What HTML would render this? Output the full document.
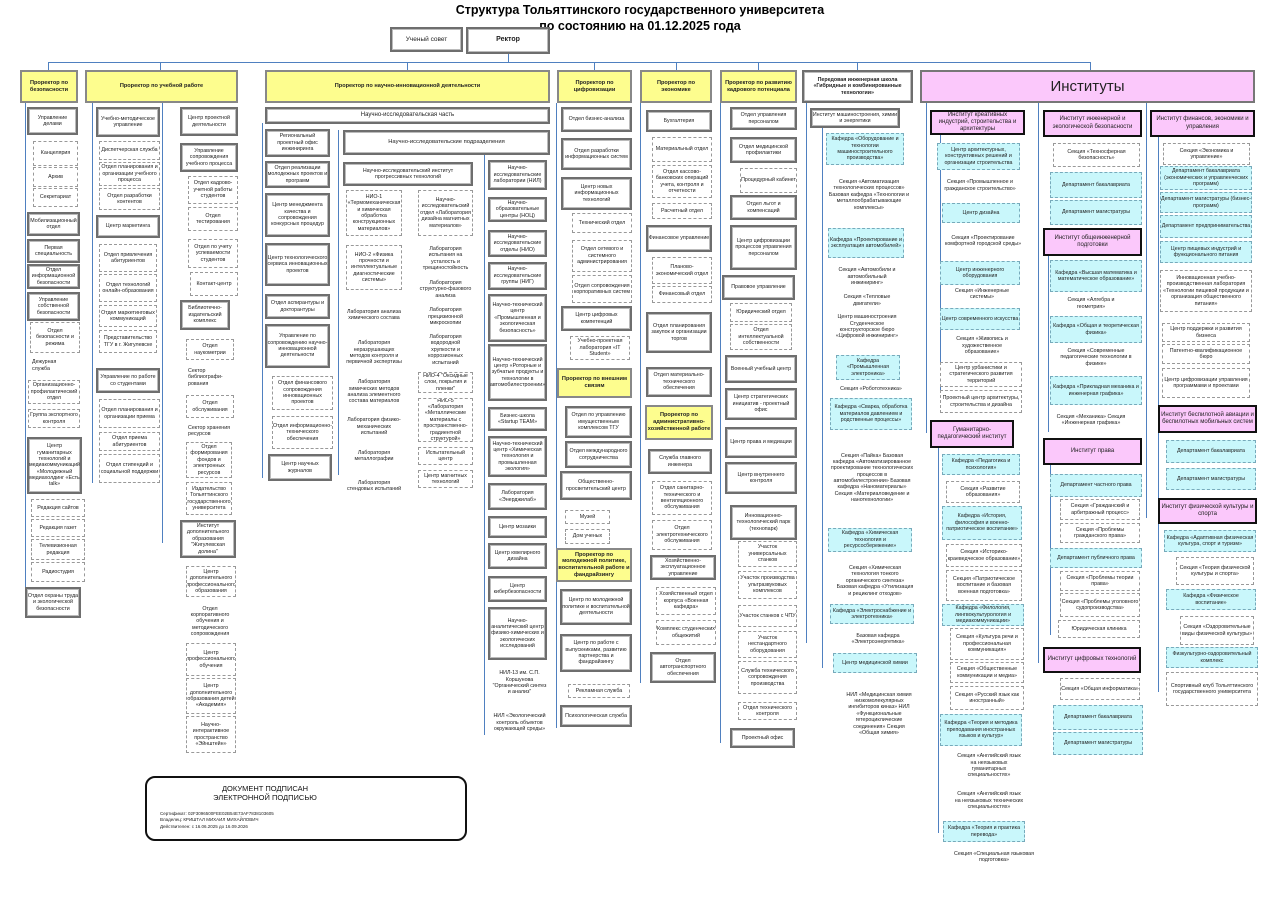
<!DOCTYPE html>
<html><head><meta charset="utf-8"><style>
body{margin:0;width:1280px;height:905px;position:relative;background:#fff;font-family:"Liberation Sans",sans-serif;overflow:hidden}
div{position:absolute;box-sizing:border-box;display:flex;align-items:center;justify-content:center;text-align:center;font-size:5.3px;line-height:1.2;color:#222;overflow:hidden}
.b{border:2px solid #6e6e6e;background:#fff;box-shadow:inset 0 0 0 1px #bbb}
.d{border:1px dashed #999;background:#fff}
.c{border:1px dashed #7ab;background:#c9f7fb}
.p{border:2px solid #111;background:#fbc8fb;font-size:6px}
.y{border:2px solid #888;background:#fdfd8e;font-weight:bold;font-size:5.6px}
.t{}
.h{background:#4f80c0;display:block}
</style></head><body>
<div style="left:340px;top:3px;width:600px;height:32px;font-size:12.5px;font-weight:bold;color:#000;line-height:1.25">Структура Тольяттинского государственного университета<br>по состоянию на 01.12.2025 года</div>
<div class="b" style="left:390px;top:27px;width:73px;height:25px;font-size:6.5px">Ученый совет</div>
<div class="b" style="left:466px;top:27px;width:84px;height:27px;font-size:7px;font-weight:bold">Ректор</div>
<!-- main lines -->
<div class="h" style="left:48px;top:62px;width:1042px;height:1px"></div>
<div class="h" style="left:508px;top:54px;width:1px;height:8px"></div>
<div class="h" style="left:48px;top:62px;width:1px;height:8px"></div>
<div class="h" style="left:160px;top:62px;width:1px;height:8px"></div>
<div class="h" style="left:407px;top:62px;width:1px;height:8px"></div>
<div class="h" style="left:594px;top:62px;width:1px;height:8px"></div>
<div class="h" style="left:676px;top:62px;width:1px;height:8px"></div>
<div class="h" style="left:758px;top:62px;width:1px;height:8px"></div>
<div class="h" style="left:857px;top:62px;width:1px;height:8px"></div>
<div class="h" style="left:1090px;top:62px;width:1px;height:8px"></div>
<!-- headers -->
<div class="y" style="left:20px;top:70px;width:58px;height:33px">Проректор по безопасности</div>
<div class="y" style="left:85px;top:70px;width:153px;height:33px">Проректор по учебной работе</div>
<div class="y" style="left:265px;top:70px;width:285px;height:33px">Проректор по научно-инновационной деятельности</div>
<div class="y" style="left:557px;top:70px;width:75px;height:33px">Проректор по цифровизации</div>
<div class="y" style="left:640px;top:70px;width:72px;height:33px">Проректор по экономике</div>
<div class="y" style="left:720px;top:70px;width:77px;height:33px">Проректор по развитию кадрового потенциала</div>
<div class="b" style="left:802px;top:70px;width:111px;height:33px;font-weight:bold">Передовая инженерная школа «Гибридные и комбинированные технологии»</div>
<div class="p" style="left:920px;top:70px;width:335px;height:33px;font-size:15px;border-color:#777">Институты</div>
<!-- trunks -->
<div class="h" style="left:25px;top:103px;width:1px;height:515px"></div>
<div class="h" style="left:92px;top:103px;width:1px;height:380px"></div>
<div class="h" style="left:162px;top:103px;width:1px;height:440px"></div>
<div class="h" style="left:262px;top:123px;width:1px;height:355px"></div>
<div class="h" style="left:338px;top:130px;width:1px;height:345px"></div>
<div class="h" style="left:484px;top:155px;width:1px;height:580px"></div>
<div class="h" style="left:556px;top:103px;width:1px;height:625px"></div>
<div class="h" style="left:640px;top:103px;width:1px;height:580px"></div>
<div class="h" style="left:720px;top:103px;width:1px;height:640px"></div>
<div class="h" style="left:806px;top:103px;width:1px;height:540px"></div>
<div class="h" style="left:822px;top:128px;width:1px;height:540px"></div>
<div class="h" style="left:926px;top:103px;width:1px;height:330px"></div>
<div class="h" style="left:938px;top:448px;width:1px;height:385px"></div>
<div class="h" style="left:1038px;top:103px;width:1px;height:560px"></div>
<div class="h" style="left:1146px;top:103px;width:1px;height:415px"></div>
<div class="h" style="left:1158px;top:137px;width:1px;height:555px"></div>
<div class="h" style="left:1048px;top:256px;width:1px;height:176px"></div>
<div class="h" style="left:1050px;top:465px;width:1px;height:170px"></div>
<div class="h" style="left:940px;top:135px;width:1px;height:270px"></div>
<!-- col 1 -->
<div class="b" style="left:27px;top:107px;width:51px;height:28px">Управление делами</div>
<div class="d" style="left:33px;top:141px;width:45px;height:25px">Канцелярия</div>
<div class="d" style="left:33px;top:167px;width:45px;height:20px">Архив</div>
<div class="d" style="left:33px;top:188px;width:45px;height:19px">Секретариат</div>
<div class="b" style="left:27px;top:212px;width:53px;height:24px">Мобилизационный отдел</div>
<div class="b" style="left:27px;top:239px;width:53px;height:24px">Первая специальность</div>
<div class="b" style="left:27px;top:264px;width:53px;height:25px">Отдел информационной безопасности</div>
<div class="b" style="left:27px;top:292px;width:53px;height:29px">Управление собственной безопасности</div>
<div class="d" style="left:30px;top:322px;width:50px;height:31px">Отдел безопасности и режима</div>
<div class="t" style="left:32px;top:357px;width:35px;height:17px;text-align:left">Дежурная служба</div>
<div class="d" style="left:28px;top:380px;width:52px;height:24px">Организационно-профилактический отдел</div>
<div class="d" style="left:28px;top:409px;width:52px;height:19px">Группа экспортного контроля</div>
<div class="b" style="left:27px;top:437px;width:55px;height:57px">Центр гуманитарных технологий и медиакоммуникаций «Молодежный медиахолдинг «Есть talk»</div>
<div class="d" style="left:31px;top:499px;width:54px;height:18px">Редакция сайтов</div>
<div class="d" style="left:31px;top:519px;width:54px;height:18px">Редакция газет</div>
<div class="d" style="left:31px;top:539px;width:54px;height:21px">Телевизионная редакция</div>
<div class="d" style="left:31px;top:562px;width:54px;height:20px">Радиостудия</div>
<div class="b" style="left:25px;top:587px;width:56px;height:31px">Отдел охраны труда и экологической безопасности</div>
<!-- col 2 -->
<div class="b" style="left:96px;top:107px;width:64px;height:30px">Учебно-методическое управление</div>
<div class="d" style="left:99px;top:141px;width:61px;height:19px">Диспетчерская служба</div>
<div class="d" style="left:99px;top:162px;width:61px;height:24px">Отдел планирования и организации учебного процесса</div>
<div class="d" style="left:99px;top:188px;width:61px;height:22px">Отдел разработки контентов</div>
<div class="b" style="left:96px;top:215px;width:64px;height:23px">Центр маркетинга</div>
<div class="d" style="left:99px;top:244px;width:58px;height:28px">Отдел привлечения абитуриентов</div>
<div class="d" style="left:99px;top:274px;width:58px;height:28px">Отдел технологий онлайн-образования</div>
<div class="d" style="left:99px;top:305px;width:58px;height:22px">Отдел маркетинговых коммуникаций</div>
<div class="d" style="left:99px;top:330px;width:58px;height:23px">Представительство ТГУ в г. Жигулевске</div>
<div class="b" style="left:96px;top:368px;width:64px;height:25px">Управление по работе со студентами</div>
<div class="d" style="left:99px;top:399px;width:61px;height:29px">Отдел планирования и организации приема</div>
<div class="d" style="left:99px;top:432px;width:61px;height:19px">Отдел приема абитуриентов</div>
<div class="d" style="left:99px;top:454px;width:61px;height:29px">Отдел стипендий и социальной поддержки</div>
<div class="b" style="left:180px;top:107px;width:58px;height:29px">Центр проектной деятельности</div>
<div class="b" style="left:180px;top:143px;width:58px;height:29px">Управление сопровождения учебного процесса</div>
<div class="d" style="left:188px;top:176px;width:50px;height:28px">Отдел кадрово-учетной работы студентов</div>
<div class="d" style="left:188px;top:207px;width:50px;height:24px">Отдел тестирования</div>
<div class="d" style="left:188px;top:239px;width:50px;height:29px">Отдел по учету успеваемости студентов</div>
<div class="d" style="left:190px;top:272px;width:48px;height:24px">Контакт-центр</div>
<div class="b" style="left:180px;top:300px;width:50px;height:30px">Библиотечно-издательский комплекс</div>
<div class="d" style="left:186px;top:339px;width:48px;height:21px">Отдел наукометрии</div>
<div class="t" style="left:188px;top:366px;width:40px;height:23px;text-align:left">Сектор библиографи-рования</div>
<div class="d" style="left:186px;top:395px;width:48px;height:23px">Отдел обслуживания</div>
<div class="t" style="left:188px;top:421px;width:50px;height:20px;text-align:left">Сектор хранения ресурсов</div>
<div class="d" style="left:186px;top:442px;width:46px;height:36px">Отдел формирования фондов и электронных ресурсов</div>
<div class="d" style="left:186px;top:482px;width:46px;height:33px">Издательство Тольяттинского государственного университета</div>
<div class="b" style="left:180px;top:520px;width:56px;height:38px">Институт дополнительного образования "Жигулевская долина"</div>
<div class="d" style="left:186px;top:566px;width:50px;height:31px">Центр дополнительного профессионального образования</div>
<div class="t" style="left:186px;top:603px;width:48px;height:37px">Отдел корпоративного обучения и методического сопровождения</div>
<div class="d" style="left:186px;top:643px;width:50px;height:33px">Центр профессионального обучения</div>
<div class="d" style="left:186px;top:678px;width:50px;height:36px">Центр дополнительного образования детей «Академия»</div>
<div class="d" style="left:186px;top:716px;width:50px;height:37px">Научно-интерактивное пространство «Эйнштейн»</div>
<!-- col 3 -->
<div class="b" style="left:265px;top:107px;width:285px;height:17px;font-size:6px">Научно-исследовательская часть</div>
<div class="b" style="left:265px;top:129px;width:65px;height:28px">Региональный проектный офис инжиниринга</div>
<div class="b" style="left:265px;top:161px;width:65px;height:27px">Отдел реализации молодежных проектов и программ</div>
<div class="b" style="left:265px;top:193px;width:65px;height:44px">Центр менеджмента качества и сопровождения конкурсных процедур</div>
<div class="b" style="left:265px;top:243px;width:65px;height:43px">Центр технологического сервиса инновационных проектов</div>
<div class="b" style="left:265px;top:294px;width:65px;height:25px">Отдел аспирантуры и докторантуры</div>
<div class="b" style="left:265px;top:324px;width:65px;height:44px">Управление по сопровождению научно-инновационной деятельности</div>
<div class="d" style="left:272px;top:376px;width:61px;height:34px">Отдел финансового сопровождения инновационных проектов</div>
<div class="d" style="left:272px;top:416px;width:61px;height:33px">Отдел информационно-технического обеспечения</div>
<div class="b" style="left:268px;top:454px;width:64px;height:27px">Центр научных журналов</div>
<div class="b" style="left:343px;top:130px;width:207px;height:25px;font-size:5.8px">Научно-исследовательские подразделения</div>
<div class="b" style="left:343px;top:162px;width:130px;height:24px">Научно-исследовательский институт прогрессивных технологий</div>
<div class="d" style="left:346px;top:190px;width:56px;height:46px">НИО-1 «Термомеханическая и химическая обработка конструкционных материалов»</div>
<div class="d" style="left:346px;top:245px;width:56px;height:45px">НИО-2 «Физика прочности и интеллектуальные диагностические системы»</div>
<div class="t" style="left:346px;top:300px;width:56px;height:30px">Лаборатория анализа химического состава</div>
<div class="t" style="left:346px;top:335px;width:56px;height:36px">Лаборатория неразрушающих методов контроля и первичной экспертизы</div>
<div class="t" style="left:346px;top:373px;width:56px;height:38px">Лаборатория химических методов анализа элементного состава материалов</div>
<div class="t" style="left:346px;top:413px;width:56px;height:28px">Лаборатория физико-механических испытаний</div>
<div class="t" style="left:346px;top:446px;width:56px;height:20px">Лаборатория металлографии</div>
<div class="t" style="left:346px;top:474px;width:56px;height:24px">Лаборатория стендовых испытаний</div>
<div class="d" style="left:418px;top:190px;width:55px;height:46px">Научно-исследовательский отдел «Лаборатория дизайна магнитных материалов»</div>
<div class="t" style="left:418px;top:242px;width:55px;height:33px">Лаборатория испытания на усталость и трещиностойкость</div>
<div class="t" style="left:418px;top:277px;width:55px;height:25px">Лаборатория структурно-фазового анализа</div>
<div class="t" style="left:418px;top:304px;width:55px;height:26px">Лаборатория прецизионной микроскопии</div>
<div class="t" style="left:418px;top:332px;width:55px;height:36px">Лаборатория водородной хрупкости и коррозионных испытаний</div>
<div class="d" style="left:418px;top:372px;width:55px;height:21px">НИО-4 "Оксидные слои, покрытия и пленки"</div>
<div class="d" style="left:418px;top:398px;width:55px;height:44px">НИО-5 «Лаборатория «Металлические материалы с пространственно-градиентной структурой»</div>
<div class="d" style="left:418px;top:447px;width:55px;height:18px">Испытательный центр</div>
<div class="d" style="left:418px;top:470px;width:55px;height:18px">Центр магнитных технологий</div>
<div class="b" style="left:488px;top:160px;width:59px;height:30px">Научно-исследовательские лаборатории (НИЛ)</div>
<div class="b" style="left:488px;top:197px;width:59px;height:25px">Научно-образовательные центры (НОЦ)</div>
<div class="b" style="left:488px;top:230px;width:59px;height:27px">Научно-исследовательские отделы (НИО)</div>
<div class="b" style="left:488px;top:262px;width:59px;height:28px">Научно-исследовательские группы (НИГ)</div>
<div class="b" style="left:488px;top:294px;width:59px;height:48px">Научно-технический центр «Промышленная и экологическая безопасность»</div>
<div class="b" style="left:488px;top:344px;width:59px;height:57px">Научно-технический центр «Роторные и зубчатые продукты и технологии в автомобилестроении»</div>
<div class="b" style="left:488px;top:407px;width:59px;height:24px">Бизнес-школа «Startup TEAM»</div>
<div class="b" style="left:488px;top:436px;width:59px;height:41px">Научно-технический центр «Химическая технология и промышленная экология»</div>
<div class="b" style="left:488px;top:483px;width:59px;height:27px">Лаборатория «Энерджилаб»</div>
<div class="b" style="left:488px;top:516px;width:59px;height:22px">Центр мозаики</div>
<div class="b" style="left:488px;top:543px;width:59px;height:26px">Центр ювелирного дизайна</div>
<div class="b" style="left:488px;top:576px;width:59px;height:26px">Центр кибербезопасности</div>
<div class="b" style="left:488px;top:607px;width:59px;height:53px">Научно-аналитический центр физико-химических и экологических исследований</div>
<div class="t" style="left:492px;top:666px;width:55px;height:34px">НИЛ-13 им. С.П. Коршунова "Органический синтез и анализ"</div>
<div class="t" style="left:492px;top:705px;width:55px;height:36px">НИЛ «Экологический контроль объектов окружающей среды»</div>
<!-- цифровизация -->
<div class="b" style="left:561px;top:107px;width:71px;height:25px">Отдел бизнес-анализа</div>
<div class="b" style="left:561px;top:138px;width:71px;height:32px">Отдел разработки информационных систем</div>
<div class="b" style="left:561px;top:177px;width:71px;height:33px">Центр новых информационных технологий</div>
<div class="d" style="left:572px;top:213px;width:60px;height:20px">Технический отдел</div>
<div class="d" style="left:572px;top:240px;width:60px;height:32px">Отдел сетевого и системного администрирования</div>
<div class="d" style="left:572px;top:275px;width:60px;height:28px">Отдел сопровождения корпоративных систем</div>
<div class="b" style="left:561px;top:306px;width:71px;height:25px">Центр цифровых компетенций</div>
<div class="d" style="left:570px;top:336px;width:60px;height:24px">Учебно-проектная лаборатория «IT Student»</div>
<div class="y" style="left:557px;top:368px;width:75px;height:30px">Проректор по внешним связям</div>
<div class="b" style="left:565px;top:406px;width:67px;height:32px">Отдел по управлению имущественным комплексом ТГУ</div>
<div class="b" style="left:565px;top:441px;width:67px;height:27px">Отдел международного сотрудничества</div>
<div class="b" style="left:560px;top:471px;width:72px;height:29px">Общественно-просветительский центр</div>
<div class="d" style="left:565px;top:510px;width:45px;height:14px">Музей</div>
<div class="d" style="left:565px;top:529px;width:45px;height:15px">Дом ученых</div>
<div class="y" style="left:556px;top:548px;width:76px;height:34px">Проректор по молодежной политике, воспитательной работе и фандрайзингу</div>
<div class="b" style="left:560px;top:589px;width:72px;height:36px">Центр по молодежной политике и воспитательной деятельности</div>
<div class="b" style="left:560px;top:634px;width:72px;height:38px">Центр по работе с выпускниками, развитию партнерства и фандрайзингу</div>
<div class="d" style="left:568px;top:684px;width:62px;height:14px">Рекламная служба</div>
<div class="b" style="left:560px;top:705px;width:72px;height:22px">Психологическая служба</div>
<!-- экономика -->
<div class="b" style="left:646px;top:110px;width:66px;height:22px">Бухгалтерия</div>
<div class="d" style="left:652px;top:137px;width:60px;height:25px">Материальный отдел</div>
<div class="d" style="left:652px;top:165px;width:60px;height:33px">Отдел кассово-банковских операций учета, контроля и отчетности</div>
<div class="d" style="left:652px;top:203px;width:60px;height:16px">Расчетный отдел</div>
<div class="b" style="left:646px;top:225px;width:66px;height:27px">Финансовое управление</div>
<div class="d" style="left:652px;top:257px;width:60px;height:27px">Планово-экономический отдел</div>
<div class="d" style="left:652px;top:286px;width:60px;height:17px">Финансовый отдел</div>
<div class="b" style="left:646px;top:312px;width:66px;height:41px">Отдел планирования закупок и организации торгов</div>
<div class="b" style="left:646px;top:367px;width:66px;height:30px">Отдел материально-технического обеспечения</div>
<div class="y" style="left:645px;top:405px;width:68px;height:35px">Проректор по административно-хозяйственной работе</div>
<div class="b" style="left:648px;top:449px;width:64px;height:25px">Служба главного инженера</div>
<div class="d" style="left:652px;top:481px;width:60px;height:34px">Отдел санитарно-технического и вентиляционного обслуживания</div>
<div class="d" style="left:652px;top:520px;width:60px;height:30px">Отдел электротехнического обслуживания</div>
<div class="b" style="left:650px;top:555px;width:66px;height:25px">Хозяйственно-эксплуатационное управление</div>
<div class="d" style="left:656px;top:587px;width:60px;height:28px">Хозяйственный отдел корпуса «Военная кафедра»</div>
<div class="d" style="left:656px;top:620px;width:60px;height:25px">Комплекс студенческих общежитий</div>
<div class="b" style="left:650px;top:652px;width:66px;height:31px">Отдел автотранспортного обеспечения</div>
<!-- кадры -->
<div class="b" style="left:730px;top:107px;width:67px;height:23px">Отдел управления персоналом</div>
<div class="b" style="left:730px;top:137px;width:67px;height:26px">Отдел медицинской профилактики</div>
<div class="d" style="left:740px;top:168px;width:57px;height:25px">Процедурный кабинет</div>
<div class="b" style="left:730px;top:195px;width:67px;height:25px">Отдел льгот и компенсаций</div>
<div class="b" style="left:730px;top:225px;width:67px;height:45px">Центр цифровизации процессов управления персоналом</div>
<div class="b" style="left:722px;top:275px;width:73px;height:25px">Правовое управление</div>
<div class="d" style="left:730px;top:303px;width:62px;height:19px">Юридический отдел</div>
<div class="d" style="left:730px;top:324px;width:62px;height:26px">Отдел интеллектуальной собственности</div>
<div class="b" style="left:725px;top:355px;width:72px;height:28px">Военный учебный центр</div>
<div class="b" style="left:725px;top:388px;width:72px;height:32px">Центр стратегических инициатив - проектный офис</div>
<div class="b" style="left:725px;top:427px;width:72px;height:31px">Центр права и медиации</div>
<div class="b" style="left:725px;top:462px;width:72px;height:32px">Центр внутреннего контроля</div>
<div class="b" style="left:730px;top:505px;width:67px;height:35px">Инновационно-технологический парк (технопарк)</div>
<div class="d" style="left:738px;top:541px;width:59px;height:26px">Участок универсальных станков</div>
<div class="d" style="left:738px;top:571px;width:59px;height:28px">Участок производства ультразвуковых комплексов</div>
<div class="d" style="left:738px;top:605px;width:59px;height:22px">Участок станков с ЧПУ</div>
<div class="d" style="left:738px;top:631px;width:59px;height:27px">Участок нестандартного оборудования</div>
<div class="d" style="left:738px;top:661px;width:59px;height:33px">Служба технического сопровождения производства</div>
<div class="d" style="left:738px;top:702px;width:59px;height:18px">Отдел технического контроля</div>
<div class="b" style="left:730px;top:728px;width:65px;height:20px">Проектный офис</div>
<!-- ПИШ -->
<div class="b" style="left:810px;top:108px;width:90px;height:20px">Институт машиностроения, химии и энергетики</div>
<div class="c" style="left:826px;top:133px;width:78px;height:32px">Кафедра «Оборудование и технологии машиностроительного производства»</div>
<div class="t" style="left:828px;top:168px;width:82px;height:54px">Секция «Автоматизация технологических процессов» Базовая кафедра «Технологии и металлообрабатывающие комплексы»</div>
<div class="c" style="left:828px;top:228px;width:76px;height:30px">Кафедра «Проектирование и эксплуатация автомобилей»</div>
<div class="t" style="left:832px;top:262px;width:70px;height:30px">Секция «Автомобили и автомобильный инжиниринг»</div>
<div class="t" style="left:832px;top:294px;width:70px;height:13px">Секция «Тепловые двигатели»</div>
<div class="t" style="left:832px;top:307px;width:70px;height:40px">Центр машиностроения Студенческое конструкторское бюро «Цифровой инжиниринг»</div>
<div class="c" style="left:836px;top:355px;width:64px;height:25px">Кафедра «Промышленная электроника»</div>
<div class="t" style="left:838px;top:384px;width:66px;height:10px">Секция «Робототехника»</div>
<div class="c" style="left:830px;top:398px;width:82px;height:32px">Кафедра «Сварка, обработка материалов давлением и родственные процессы»</div>
<div class="t" style="left:830px;top:434px;width:84px;height:88px">Секция «Пайка» Базовая кафедра «Автоматизированное проектирование технологических процессов в автомобилестроении» Базовая кафедра «Наноматериалы» Секция «Материаловедение и нанотехнологии»</div>
<div class="c" style="left:828px;top:528px;width:84px;height:24px">Кафедра «Химическая технология и ресурсосбережение»</div>
<div class="t" style="left:836px;top:556px;width:78px;height:50px">Секция «Химическая технология тонкого органического синтеза» Базовая кафедра «Утилизация и рециклинг отходов»</div>
<div class="c" style="left:830px;top:604px;width:84px;height:20px">Кафедра «Электроснабжение и электротехника»</div>
<div class="t" style="left:842px;top:632px;width:72px;height:14px">Базовая кафедра «Электроэнергетика»</div>
<div class="c" style="left:833px;top:653px;width:84px;height:20px">Центр медицинской химии</div>
<div class="t" style="left:843px;top:678px;width:72px;height:72px">НИЛ «Медицинская химия низкомолекулярных ингибиторов киназ» НИЛ «Функциональные гетероциклические соединения» Секция «Общая химия»</div>
<!-- Inst col A -->
<div class="p" style="left:930px;top:110px;width:95px;height:25px">Институт креативных индустрий, строительства и архитектуры</div>
<div class="c" style="left:937px;top:143px;width:83px;height:27px">Центр архитектурных, конструктивных решений и организации строительства</div>
<div class="t" style="left:940px;top:174px;width:80px;height:23px">Секция «Промышленное и гражданское строительство»</div>
<div class="c" style="left:942px;top:203px;width:78px;height:20px">Центр дизайна</div>
<div class="t" style="left:944px;top:226px;width:78px;height:30px">Секция «Проектирование комфортной городской среды»</div>
<div class="c" style="left:940px;top:261px;width:80px;height:24px">Центр инженерного оборудования</div>
<div class="t" style="left:944px;top:287px;width:76px;height:14px">Секция «Инженерные системы»</div>
<div class="c" style="left:940px;top:308px;width:80px;height:22px">Центр современного искусства</div>
<div class="t" style="left:944px;top:334px;width:76px;height:24px">Секция «Живопись и художественное образование»</div>
<div class="d" style="left:940px;top:362px;width:82px;height:25px">Центр урбанистики и стратегического развития территорий</div>
<div class="d" style="left:940px;top:390px;width:82px;height:23px">Проектный центр архитектуры, строительства и дизайна</div>
<div class="p" style="left:930px;top:420px;width:84px;height:28px">Гуманитарно-педагогический институт</div>
<div class="c" style="left:942px;top:454px;width:78px;height:21px">Кафедра «Педагогика и психология»</div>
<div class="d" style="left:946px;top:481px;width:74px;height:22px">Секция «Развитие образования»</div>
<div class="c" style="left:942px;top:506px;width:80px;height:34px">Кафедра «История, философия и военно-патриотическое воспитание»</div>
<div class="d" style="left:946px;top:544px;width:76px;height:23px">Секция «Историко-краеведческое образование»</div>
<div class="d" style="left:946px;top:570px;width:76px;height:31px">Секция «Патриотическое воспитание и базовая военная подготовка»</div>
<div class="c" style="left:942px;top:604px;width:82px;height:22px">Кафедра «Филология, лингвокультурология и медиакоммуникации»</div>
<div class="d" style="left:950px;top:628px;width:74px;height:32px">Секция «Культура речи и профессиональная коммуникация»</div>
<div class="d" style="left:950px;top:662px;width:74px;height:21px">Секция «Общественные коммуникации и медиа»</div>
<div class="d" style="left:950px;top:686px;width:74px;height:24px">Секция «Русский язык как иностранный»</div>
<div class="c" style="left:940px;top:714px;width:82px;height:32px">Кафедра «Теория и методика преподавания иностранных языков и культур»</div>
<div class="t" style="left:954px;top:750px;width:70px;height:32px">Секция «Английский язык на неязыковых гуманитарных специальностях»</div>
<div class="t" style="left:954px;top:785px;width:70px;height:32px">Секция «Английский язык на неязыковых технических специальностях»</div>
<div class="c" style="left:943px;top:821px;width:82px;height:21px">Кафедра «Теория и практика перевода»</div>
<div class="t" style="left:954px;top:848px;width:80px;height:18px">Секция «Специальная языковая подготовка»</div>
<!-- Inst col B -->
<div class="p" style="left:1043px;top:110px;width:99px;height:27px">Институт инженерной и экологической безопасности</div>
<div class="d" style="left:1053px;top:143px;width:87px;height:24px">Секция «Техносферная безопасность»</div>
<div class="c" style="left:1050px;top:172px;width:92px;height:26px">Департамент бакалавриата</div>
<div class="c" style="left:1050px;top:200px;width:92px;height:25px">Департамент магистратуры</div>
<div class="p" style="left:1043px;top:228px;width:99px;height:28px">Институт общеинженерной подготовки</div>
<div class="c" style="left:1050px;top:260px;width:92px;height:32px">Кафедра «Высшая математика и математическое образование»</div>
<div class="t" style="left:1056px;top:295px;width:70px;height:17px">Секция «Алгебра и геометрия»</div>
<div class="c" style="left:1050px;top:316px;width:92px;height:27px">Кафедра «Общая и теоретическая физика»</div>
<div class="t" style="left:1050px;top:345px;width:92px;height:25px">Секция «Современные педагогические технологии в физике»</div>
<div class="c" style="left:1050px;top:376px;width:92px;height:29px">Кафедра «Прикладная механика и инженерная графика»</div>
<div class="t" style="left:1056px;top:408px;width:70px;height:24px">Секция «Механика» Секция «Инженерная графика»</div>
<div class="p" style="left:1043px;top:438px;width:99px;height:27px">Институт права</div>
<div class="c" style="left:1050px;top:474px;width:92px;height:23px">Департамент частного права</div>
<div class="d" style="left:1060px;top:499px;width:80px;height:21px">Секция «Гражданский и арбитражный процесс»</div>
<div class="d" style="left:1060px;top:523px;width:80px;height:20px">Секция «Проблемы гражданского права»</div>
<div class="c" style="left:1050px;top:548px;width:92px;height:20px">Департамент публичного права</div>
<div class="d" style="left:1060px;top:571px;width:80px;height:20px">Секция «Проблемы теории права»</div>
<div class="d" style="left:1060px;top:593px;width:80px;height:24px">Секция «Проблемы уголовного судопроизводства»</div>
<div class="d" style="left:1058px;top:620px;width:82px;height:18px">Юридическая клиника</div>
<div class="p" style="left:1043px;top:647px;width:98px;height:26px">Институт цифровых технологий</div>
<div class="d" style="left:1060px;top:678px;width:80px;height:22px">Секция «Общая информатика»</div>
<div class="c" style="left:1053px;top:705px;width:90px;height:25px">Департамент бакалавриата</div>
<div class="c" style="left:1053px;top:732px;width:90px;height:23px">Департамент магистратуры</div>
<!-- Inst col C -->
<div class="p" style="left:1150px;top:110px;width:105px;height:27px">Институт финансов, экономики и управления</div>
<div class="d" style="left:1163px;top:143px;width:87px;height:22px">Секция «Экономика и управление»</div>
<div class="c" style="left:1160px;top:166px;width:92px;height:24px">Департамент бакалавриата (экономических и управленческих программ)</div>
<div class="c" style="left:1160px;top:192px;width:92px;height:21px">Департамент магистратуры (бизнес-программ)</div>
<div class="c" style="left:1160px;top:215px;width:92px;height:23px">Департамент предпринимательства</div>
<div class="c" style="left:1160px;top:241px;width:92px;height:22px">Центр пищевых индустрий и функционального питания</div>
<div class="d" style="left:1160px;top:270px;width:92px;height:42px">Инновационная учебно-производственная лаборатория «Технологии пищевой продукции и организация общественного питания»</div>
<div class="d" style="left:1162px;top:323px;width:88px;height:19px">Центр поддержки и развития бизнеса</div>
<div class="d" style="left:1162px;top:344px;width:88px;height:20px">Патентно-квалификационное бюро</div>
<div class="d" style="left:1162px;top:368px;width:88px;height:30px">Центр цифровизации управления программами и проектами</div>
<div class="p" style="left:1158px;top:405px;width:99px;height:28px">Институт беспилотной авиации и беспилотных мобильных систем</div>
<div class="c" style="left:1166px;top:440px;width:90px;height:23px">Департамент бакалавриата</div>
<div class="c" style="left:1166px;top:468px;width:90px;height:22px">Департамент магистратуры</div>
<div class="p" style="left:1158px;top:498px;width:99px;height:26px">Институт физической культуры и спорта</div>
<div class="c" style="left:1164px;top:530px;width:92px;height:22px">Кафедра «Адаптивная физическая культура, спорт и туризм»</div>
<div class="d" style="left:1176px;top:557px;width:78px;height:28px">Секция «Теория физической культуры и спорта»</div>
<div class="c" style="left:1166px;top:589px;width:90px;height:21px">Кафедра «Физическое воспитание»</div>
<div class="d" style="left:1180px;top:616px;width:74px;height:29px">Секция «Оздоровительные виды физической культуры»</div>
<div class="c" style="left:1166px;top:647px;width:92px;height:21px">Физкультурно-оздоровительный комплекс</div>
<div class="d" style="left:1166px;top:672px;width:92px;height:34px">Спортивный клуб Тольяттинского государственного университета</div>
<!-- stamp -->
<div style="left:145px;top:776px;width:322px;height:65px;border:2px solid #111;border-radius:10px;display:block"></div>
<div style="left:180px;top:783px;width:170px;height:20px;font-size:7.5px;color:#111">ДОКУМЕНТ ПОДПИСАН<br>ЭЛЕКТРОННОЙ ПОДПИСЬЮ</div>
<div style="left:160px;top:811px;width:200px;height:22px;font-size:4.5px;display:block;text-align:left;line-height:1.4">Сертификат: 02F3096500FEE02B54E73AF7838103605<br>Владелец: КРИШТАЛ МИХАИЛ МИХАЙЛОВИЧ<br>Действителен: с 16.06.2025 до 16.09.2026</div>
</body></html>
